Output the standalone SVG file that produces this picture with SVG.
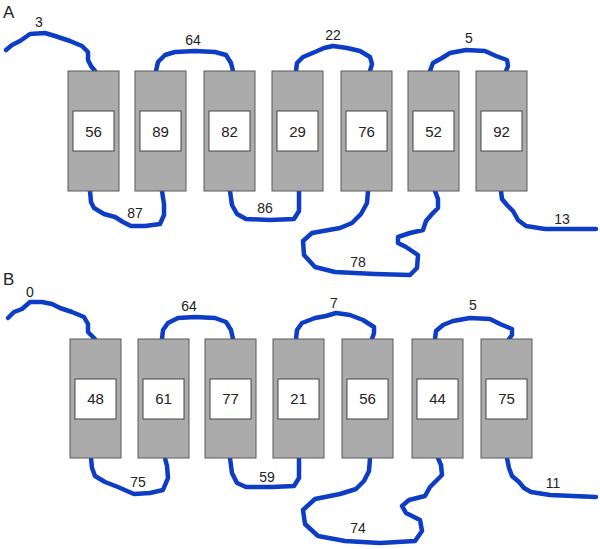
<svg xmlns="http://www.w3.org/2000/svg" width="600" height="549" viewBox="0 0 600 549">
<style>
.bg{fill:#ffffff}
.tm{fill:#ababab;stroke:#5a5a5a;stroke-width:1}
.in{fill:#ffffff;stroke:#444444;stroke-width:1}
.t{font-family:"Liberation Sans",Arial,sans-serif;font-size:15px;fill:#222222;text-anchor:middle}
.l{font-family:"Liberation Sans",Arial,sans-serif;font-size:14px;fill:#222222;text-anchor:middle}
.p{font-family:"Liberation Sans",Arial,sans-serif;font-size:17px;fill:#222222}
.c{fill:none;stroke:#0c3dc4;stroke-width:4.5;stroke-linejoin:round;stroke-linecap:round}
</style>
<rect class="bg" x="0" y="0" width="600" height="549"/>
<text class="p" x="3" y="18">A</text>
<text class="p" x="3" y="285">B</text>

<g id="connectors">
<!-- Panel A -->
<path class="c" d="M6,50 L12,45 L20,41 L30,34 L45,33 L55,36 L70,41 L82,46 L88,52 L88,60 L91,66 L95,71"/>
<path class="c" d="M156,71 L158,62 L165,55 L175,52 L195,51 L215,52 L226,55 L231,63 L233,71"/>
<path class="c" d="M90,191 L91,202 L94,208 L104,214 L115,217 L123,222 L131,226 L145,226 L160,224 L164,215 L164,204 L162,191"/>
<path class="c" d="M230,191 L232,205 L237,214 L246,219 L270,220 L294,219 L299,211 L299,191"/>
<path class="c" d="M296,71 L297,63 L303,57 L315,52 L324,48 L333,46 L347,48 L360,51 L370,57 L372,64 L370,71"/>
<path class="c" d="M430,71 L433,63 L442,58 L450,53 L466,50 L485,51 L496,56 L507,60 L508,66 L506,71"/>
<path class="c" d="M501,191 L502,199 L507,205 L513,211 L518,220 L526,226 L545,229 L596,229"/>
<path class="c" d="M368,191 L367,203 L361,214 L352,223 L340,228 L312,233 L303,241 L304,255 L315,267 L335,272 L375,274 L410,275 L417,268 L418,255 L406,247 L398,243 L398,237 L410,233 L423,230 L426,221 L432,214 L438,208 L438,199 L435,191"/>
<!-- Panel B -->
<path class="c" d="M8,318 L14,312 L22,309 L30,302 L42,302 L52,304 L60,308 L72,312 L84,317 L88,324 L88,332 L95,339"/>
<path class="c" d="M162,339 L163,330 L168,323 L178,318 L195,317 L215,318 L226,322 L231,330 L233,339"/>
<path class="c" d="M91,458 L92,468 L95,476 L105,482 L118,487 L127,491 L134,494 L150,493 L163,490 L168,478 L167,466 L165,458"/>
<path class="c" d="M230,458 L232,473 L237,483 L246,487 L272,487 L294,486 L299,478 L299,458"/>
<path class="c" d="M296,339 L297,330 L302,323 L315,318 L326,316 L336,313 L350,315 L363,320 L374,327 L374,333 L372,339"/>
<path class="c" d="M435,339 L436,331 L443,325 L453,321 L470,318 L490,319 L500,324 L512,329 L512,335 L509,339"/>
<path class="c" d="M507,458 L509,468 L512,476 L519,482 L524,488 L531,492 L550,495 L596,497"/>
<path class="c" d="M370,458 L369,471 L364,481 L356,489 L340,494 L315,499 L303,510 L305,524 L318,536 L345,541 L380,543 L415,541 L422,531 L420,520 L406,513 L402,506 L409,500 L425,496 L430,487 L437,480 L442,475 L441,465 L438,458"/>
</g>

<g id="labels">
<text class="l" x="39" y="27">3</text>
<text class="l" x="193" y="45">64</text>
<text class="l" x="135" y="218">87</text>
<text class="l" x="265" y="213">86</text>
<text class="l" x="333" y="40">22</text>
<text class="l" x="469" y="43">5</text>
<text class="l" x="562" y="224">13</text>
<text class="l" x="358" y="267">78</text>
<text class="l" x="30" y="297">0</text>
<text class="l" x="189" y="311">64</text>
<text class="l" x="138" y="487">75</text>
<text class="l" x="267" y="482">59</text>
<text class="l" x="334" y="308">7</text>
<text class="l" x="473" y="310">5</text>
<text class="l" x="553" y="488">11</text>
<text class="l" x="358" y="533">74</text>
</g>

<!-- Panel A segments -->
<g id="A1"><rect class="tm" x="68" y="71" width="51" height="120"/><rect class="in" x="73" y="111" width="41" height="40"/><text class="t" x="93.5" y="137">56</text></g>
<g id="A2"><rect class="tm" x="135" y="71" width="51" height="120"/><rect class="in" x="140" y="111" width="41" height="40"/><text class="t" x="160.5" y="137">89</text></g>
<g id="A3"><rect class="tm" x="204" y="71" width="51" height="120"/><rect class="in" x="209" y="111" width="41" height="40"/><text class="t" x="229.5" y="137">82</text></g>
<g id="A4"><rect class="tm" x="272" y="71" width="51" height="120"/><rect class="in" x="277" y="111" width="41" height="40"/><text class="t" x="297.5" y="137">29</text></g>
<g id="A5"><rect class="tm" x="341" y="71" width="51" height="120"/><rect class="in" x="346" y="111" width="41" height="40"/><text class="t" x="366.5" y="137">76</text></g>
<g id="A6"><rect class="tm" x="408" y="71" width="51" height="120"/><rect class="in" x="413" y="111" width="41" height="40"/><text class="t" x="433.5" y="137">52</text></g>
<g id="A7"><rect class="tm" x="476" y="71" width="51" height="120"/><rect class="in" x="481" y="111" width="41" height="40"/><text class="t" x="501.5" y="137">92</text></g>

<!-- Panel B segments -->
<g id="B1"><rect class="tm" x="70" y="339" width="51" height="119"/><rect class="in" x="75" y="379" width="41" height="40"/><text class="t" x="95.5" y="404">48</text></g>
<g id="B2"><rect class="tm" x="138" y="339" width="51" height="119"/><rect class="in" x="143" y="379" width="41" height="40"/><text class="t" x="163.5" y="404">61</text></g>
<g id="B3"><rect class="tm" x="205" y="339" width="51" height="119"/><rect class="in" x="210" y="379" width="41" height="40"/><text class="t" x="230.5" y="404">77</text></g>
<g id="B4"><rect class="tm" x="273" y="339" width="51" height="119"/><rect class="in" x="278" y="379" width="41" height="40"/><text class="t" x="298.5" y="404">21</text></g>
<g id="B5"><rect class="tm" x="342" y="339" width="51" height="119"/><rect class="in" x="347" y="379" width="41" height="40"/><text class="t" x="367.5" y="404">56</text></g>
<g id="B6"><rect class="tm" x="412" y="339" width="51" height="119"/><rect class="in" x="417" y="379" width="41" height="40"/><text class="t" x="437.5" y="404">44</text></g>
<g id="B7"><rect class="tm" x="481" y="339" width="51" height="119"/><rect class="in" x="486" y="379" width="41" height="40"/><text class="t" x="506.5" y="404">75</text></g>
</svg>
